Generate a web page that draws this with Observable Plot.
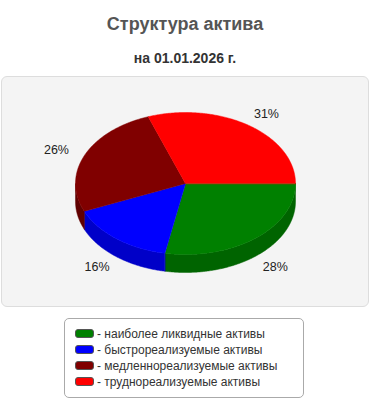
<!DOCTYPE html>
<html><head><meta charset="utf-8">
<script src="https://cdn.jsdelivr.net/npm/d3@7"></script>
<script src="https://cdn.jsdelivr.net/npm/@observablehq/plot@0.6"></script>
<style>
body{margin:0;background:#fff;font-family:"Liberation Sans",Arial,sans-serif;}
#wrap{position:relative;width:370px;height:400px;}
#title{position:absolute;left:0;top:14px;width:370px;text-align:center;font-weight:bold;font-size:18px;color:#555;}
#subtitle{position:absolute;left:0;top:50px;width:370px;text-align:center;font-weight:bold;font-size:14px;color:#333;}
#panel{position:absolute;left:1px;top:76px;width:368px;height:231px;box-sizing:border-box;border:1px solid #ddd;border-radius:6px;background:#f4f4f4;}
#chart{position:absolute;left:0;top:76px;}
#legend{position:absolute;left:64px;top:318px;width:240px;height:80px;box-sizing:border-box;border:1px solid #aaa;border-radius:5px;background:#fff;padding:7px 0 0 10px;font-size:12px;color:#333;}
.row{height:16px;line-height:16px;white-space:nowrap;}
.sw{display:inline-block;width:17px;height:7px;border:1px solid #555;border-radius:3px;vertical-align:middle;margin-right:3px;position:relative;top:-1px;}
</style></head>
<body><div id="wrap">
<div id="title"></div><div id="subtitle"></div>
<div id="panel"></div><div id="chart"></div><div id="legend"></div>
</div>
<script>
const title = "Структура актива";
const subtitle = "на 01.01.2026 г.";
const categories = ["наиболее ликвидные активы","быстрореализуемые активы","медленнореализуемые активы","труднореализуемые активы"];
const values = [28.0, 15.6, 25.9, 30.5];
const topColors = ["#008000","#0000ff","#800000","#ff0000"];
const sideColors = ["#006400","#0000c8","#600000","#c00000"];

document.getElementById("title").textContent = title;
document.getElementById("subtitle").textContent = subtitle;

const total = d3.sum(values);
const depth = 0.2535; // in ry units
const TAU = 2*Math.PI;
let acc = 0;
const slices = values.map((v,i)=>{const a0 = acc/total*TAU; acc += v; const a1 = acc/total*TAU; return {i, v, a0, a1, name: categories[i]};});

function arcPts(a0,a1,dy){const n=Math.max(2,Math.ceil((a1-a0)/0.01));const pts=[];for(let k=0;k<=n;k++){const t=a0+(a1-a0)*k/n;pts.push([Math.cos(t),Math.sin(t)+dy]);}return pts;}

const sides=[], tops=[];
for(const s of slices){
  const b0=Math.max(s.a0,0), b1=Math.min(s.a1,Math.PI);
  if(b1>b0){
    const p=[...arcPts(b0,b1,0),...arcPts(b0,b1,depth).reverse()];
    p.forEach(([x,y])=>sides.push({x,y,k:s.i}));
  }
  const p=[[0,0],...arcPts(s.a0,s.a1,0)];
  p.forEach(([x,y])=>tops.push({x,y,k:s.i}));
}
const labels = slices.map(s=>{const m=(s.a0+s.a1)/2;const sy=Math.sin(m);return {x:1.28*Math.cos(m), y:1.19*sy+(sy>0?depth:0), t:Math.round(s.v/total*100)+"%"};});

const chart = Plot.plot({
  width:370, height:231, margin:0,
  x:{domain:[-185/110,185/110], axis:null},
  y:{domain:[-107/71,124/71], range:[0,231], axis:null},
  marks:[
    Plot.line(sides,{x:"x",y:"y",z:"k",fill:d=>sideColors[d.k],stroke:d=>sideColors[d.k],strokeWidth:0.5,curve:"linear-closed"}),
    Plot.line(tops,{x:"x",y:"y",z:"k",fill:d=>topColors[d.k],stroke:d=>topColors[d.k],strokeWidth:0.5,curve:"linear-closed"}),
    Plot.text(labels,{x:"x",y:"y",text:"t",fontSize:12.5,fill:"#222",fontFamily:"Liberation Sans, Arial, sans-serif"})
  ],
  style:{background:"transparent"}
});
document.getElementById("chart").appendChild(chart);

const lg=document.getElementById("legend");
categories.forEach((c,i)=>{const r=document.createElement("div");r.className="row";const sw=document.createElement("span");sw.className="sw";sw.style.background=topColors[i];r.appendChild(sw);r.appendChild(document.createTextNode("- "+c));lg.appendChild(r);});
</script>
</body></html>
